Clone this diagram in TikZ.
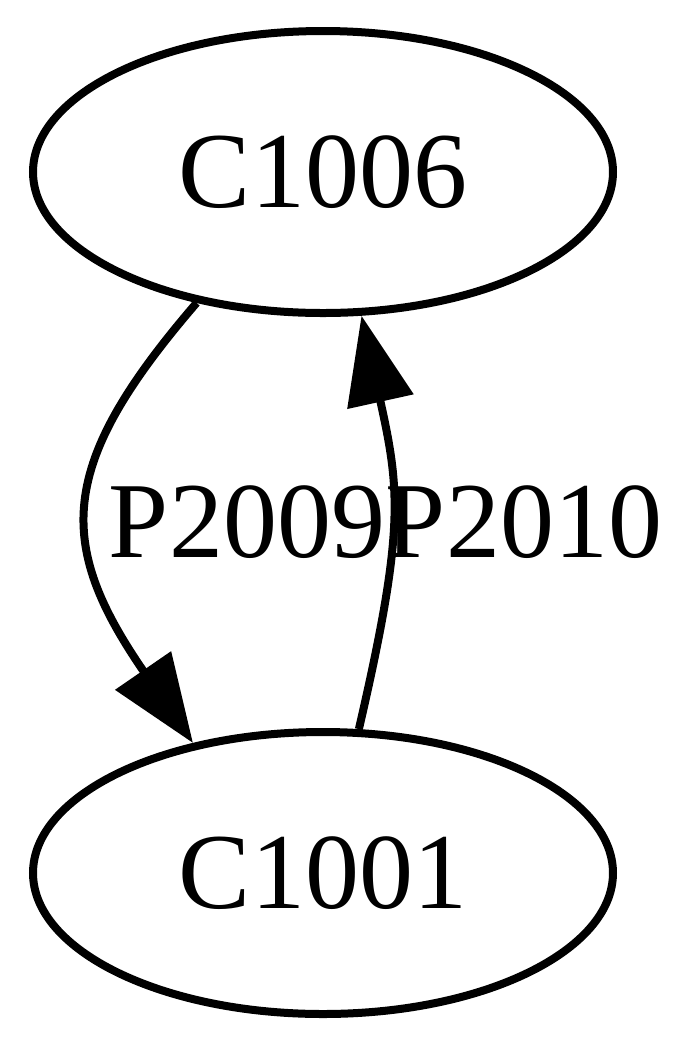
\documentclass[tikz,border=0pt]{standalone}
\usepackage{fontspec}
\setmainfont{Liberation Serif}
\usetikzlibrary{shapes.geometric,arrows.meta}
\tikzset{
  gnode/.style={draw, ellipse, line width=4pt, minimum width=290pt, minimum height=141pt, inner sep=0pt, font=\fontsize{54}{60}\selectfont},
  gedge/.style={draw, line width=4pt, -{Triangle[length=44pt,width=33pt]}},
  glabel/.style={anchor=base, inner sep=0pt, font=\fontsize{54}{60}\selectfont}
}
\begin{document}
\begin{tikzpicture}[x=0.5pt,y=-0.5pt]
\useasboundingbox (0,0) rectangle (700,1046);
\node[gnode] (c1006) at (323,172) {C1006};
\node[gnode] (c1001) at (323,873) {C1001};
\draw[gedge] (c1006.226) .. controls (56,466) and (56,544) .. (c1001.135);
\draw[gedge] (c1001.76) .. controls (405,530) and (400,490) .. (c1006.285);
\node[glabel] (l2009) at (247,557) {P2009};
\node[glabel] (l2010) at (524,557) {P2010};
\end{tikzpicture}
\end{document}
